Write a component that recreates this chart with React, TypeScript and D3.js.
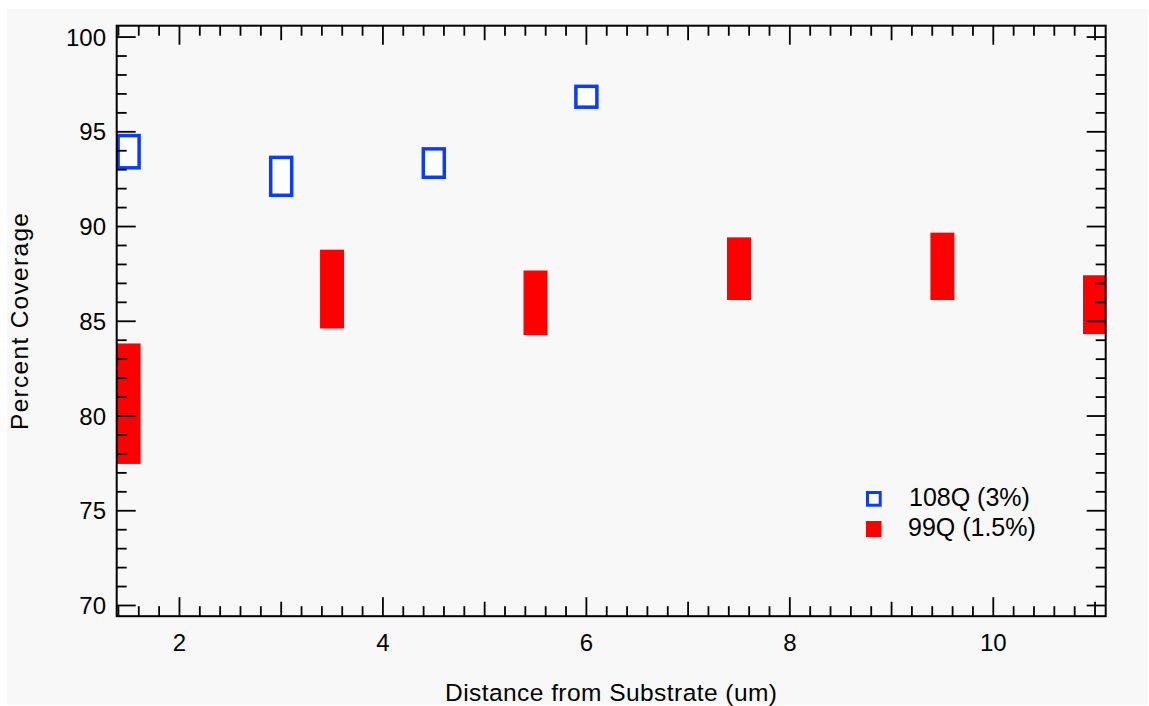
import React from "react";
import * as d3 from "d3";

// values
const series108Q_x = [1.5, 3, 4.5, 6];
const series108Q_lo = [93.1, 91.65, 92.6, 96.3];
const series108Q_hi = [94.8, 93.65, 94.1, 97.4];

const series99Q_x = [1.5, 3.5, 5.5, 7.5, 9.5, 11];
const series99Q_lo = [77.55, 84.7, 84.35, 86.2, 86.2, 84.4];
const series99Q_hi = [83.75, 88.7, 87.6, 89.35, 89.6, 87.35];

const xTickLabels = [2, 4, 6, 8, 10];
const yTickLabels = [70, 75, 80, 85, 90, 95, 100];
const legendLabels = ["108Q (3%)", "99Q (1.5%)"];

const W = 1149;
const H = 706;
const FONT = "'Liberation Sans', Arial, Helvetica, sans-serif";
const BLUE = "#0a3cff";
const RED = "#ff0000";

const plot = { left: 116.7, right: 1105.7, top: 25.7, bottom: 616.2 };

const App = () => {
  const x = d3.scaleLinear().domain([1.383, 11.105]).range([plot.left, plot.right]);
  const y = d3.scaleLinear().domain([69.435, 100.6]).range([plot.bottom, plot.top]);

  const [x0, x1] = x.domain();
  const [y0, y1] = y.domain();

  // x ticks every 0.2, medium on odd integers, major on the labelled ones
  const xMinor = d3
    .range(Math.ceil(x0 * 5), Math.floor(x1 * 5) + 1)
    .map((i) => ({ v: i / 5, len: i % 10 === 0 ? 19 : i % 5 === 0 ? 14.5 : 10 }));
  // y ticks every 1, major every 5
  const yMinor = d3
    .range(Math.ceil(y0), Math.floor(y1) + 1)
    .map((v) => ({ v, len: v % 5 === 0 ? 19 : 10 }));

  const hw = 10.5; // marker half width, px

  const markers = (xs, lo, hi) =>
    xs.map((v, i) => ({ cx: x(v), top: y(hi[i]), bot: y(lo[i]) }));

  const blue = markers(series108Q_x, series108Q_lo, series108Q_hi);
  const red = markers(series99Q_x, series99Q_lo, series99Q_hi);

  return (
    <div style={{ position: "absolute", left: 0, top: 0 }}>
      <svg width={W} height={H} style={{ display: "block" }}>
        <rect x={0} y={0} width={W} height={H} fill="#ffffff" />
        <rect x={7} y={9} width={1141} height={696} fill="#f8f8f8" />
        <defs>
          <clipPath id="plotClip">
            <rect
              x={plot.left}
              y={plot.top}
              width={plot.right - plot.left}
              height={plot.bottom - plot.top}
            />
          </clipPath>
        </defs>

        <g clipPath="url(#plotClip)">
          {red.map((m, i) => (
            <rect
              key={"r" + i}
              x={m.cx - hw}
              y={m.top}
              width={hw * 2}
              height={m.bot - m.top}
              fill={RED}
              stroke={RED}
              strokeWidth={3}
            />
          ))}
          {blue.map((m, i) => (
            <rect
              key={"b" + i}
              x={m.cx - hw}
              y={m.top}
              width={hw * 2}
              height={m.bot - m.top}
              fill="#ffffff"
              stroke={BLUE}
              strokeWidth={3.5}
            />
          ))}
        </g>

        {/* tick marks, mirrored on all four sides */}
        <g stroke="#000" strokeWidth={1.8}>
          {xMinor.map((t, i) => (
            <g key={"xt" + i}>
              <line x1={x(t.v)} x2={x(t.v)} y1={plot.bottom} y2={plot.bottom - t.len} />
              <line x1={x(t.v)} x2={x(t.v)} y1={plot.top} y2={plot.top + t.len} />
            </g>
          ))}
          {yMinor.map((t, i) => (
            <g key={"yt" + i}>
              <line y1={y(t.v)} y2={y(t.v)} x1={plot.left} x2={plot.left + t.len} />
              <line y1={y(t.v)} y2={y(t.v)} x1={plot.right} x2={plot.right - t.len} />
            </g>
          ))}
        </g>

        <rect
          x={plot.left}
          y={plot.top}
          width={plot.right - plot.left}
          height={plot.bottom - plot.top}
          fill="none"
          stroke="#000"
          strokeWidth={2}
        />

        <g fontFamily={FONT} fontSize={24} fill="#000">
          {xTickLabels.map((v) => (
            <text key={"xl" + v} x={x(v)} y={651} textAnchor="middle">
              {v}
            </text>
          ))}
          {yTickLabels.map((v) => (
            <text key={"yl" + v} x={106} y={y(v)} dy="0.36em" textAnchor="end">
              {v}
            </text>
          ))}
        </g>

        <text
          x={611}
          y={701}
          textAnchor="middle"
          fontFamily={FONT}
          fontSize={24.5}
          textLength={332}
          lengthAdjust="spacing"
          fill="#000"
        >
          Distance from Substrate (um)
        </text>
        <text
          transform={`translate(27.5,321.5) rotate(-90)`}
          textAnchor="middle"
          fontFamily={FONT}
          fontSize={24.5}
          textLength={217}
          lengthAdjust="spacing"
          fill="#000"
        >
          Percent Coverage
        </text>

        {/* legend */}
        <g fontFamily={FONT} fontSize={25} fill="#000">
          <rect x={867.5} y={492.5} width={12.7} height={12.7} fill="#ffffff" stroke={BLUE} strokeWidth={3} />
          <text x={909} y={506}>
            {legendLabels[0]}
          </text>
          <rect x={866} y={521} width={15.5} height={16} fill={RED} />
          <text x={908} y={536}>
            {legendLabels[1]}
          </text>
        </g>
      </svg>
    </div>
  );
};

export default App;
